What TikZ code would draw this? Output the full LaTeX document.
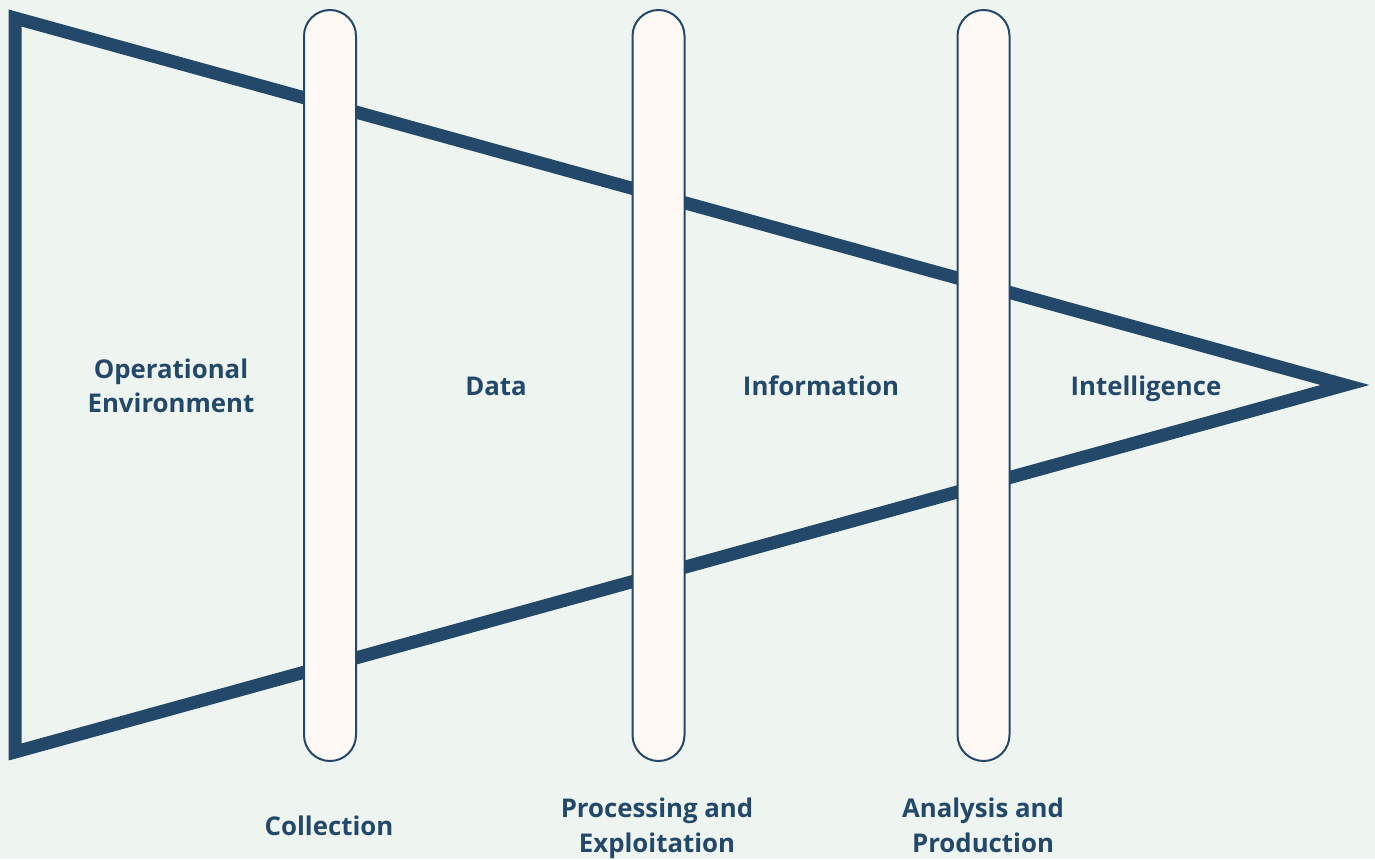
\documentclass[tikz,border=0pt]{standalone}
\usepackage{fontspec}
\setmainfont{Open Sans}
\definecolor{navy}{HTML}{23486A}
\definecolor{bgc}{HTML}{EEF5F0}
\definecolor{pillc}{HTML}{FFF9F6}
\begin{document}
\begin{tikzpicture}[x=1pt,y=-1pt,
  pill/.style={draw=navy,line width=2pt,fill=pillc,rounded corners=26pt,minimum width=52pt,minimum height=751pt,inner sep=0pt},
  lbl/.style={text=navy,font=\fontsize{25.8}{34.5}\selectfont\bfseries,align=center,inner sep=0pt,anchor=base}]
\fill[bgc] (0,0) rectangle (1375,859);
\useasboundingbox (0,0) rectangle (1375,859);
\coordinate (tl) at (15,18);
\coordinate (tip) at (1345,385);
\coordinate (bl) at (15,752);
\draw[navy,line width=13pt,line join=miter,miter limit=10] (tl) -- (tip) -- (bl) -- cycle;
\node[pill] (p1) at (330,385.5) {};
\node[pill] (p2) at (658.5,385.5) {};
\node[pill] (p3) at (983.5,385.5) {};
\node[lbl] (oe) at (171,412.5) {Operational\\Environment};
\node[lbl] (data) at (496,395.5) {Data};
\node[lbl] (info) at (821,395.5) {Information};
\node[lbl] (intel) at (1146,395.5) {Intelligence};
\node[lbl] (coll) at (329,835.5) {Collection};
\node[lbl] (pe) at (657,852) {Processing and\\Exploitation};
\node[lbl] (ap) at (983,852) {Analysis and\\Production};
\end{tikzpicture}
\end{document}
